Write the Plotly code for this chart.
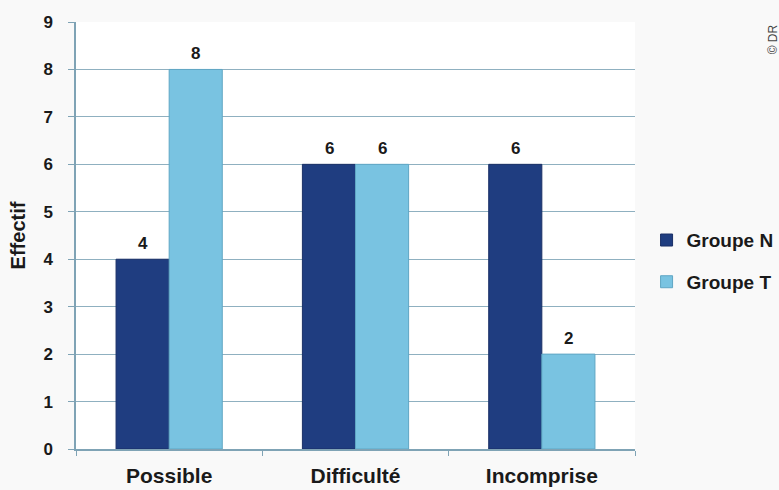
import plotly.graph_objects as go

categories = ["Possible", "Difficulté", "Incomprise"]
groupe_n = [4, 6, 6]
groupe_t = [8, 6, 2]
y_ticks = list(range(0, 10))

FONT = "Liberation Sans, Arial, sans-serif"
INK = "#1a1a1a"
AXIS = "#7fa3b5"

fig = go.Figure()
fig.add_trace(go.Bar(
    name="Groupe N", x=categories, y=groupe_n, legendgroup="n",
    marker=dict(color="#1f3d80", line=dict(color="#1a2f66", width=1)),
))
fig.add_trace(go.Bar(
    name="Groupe T", x=categories, y=groupe_t, legendgroup="t",
    marker=dict(color="#79c3e1", line=dict(color="#5fa6c4", width=1)),
))

annotations = []
for series, shift in ((groupe_n, -26.5), (groupe_t, 26.5)):
    for cat, val in zip(categories, series):
        annotations.append(dict(
            x=cat, y=val, xref="x", yref="y", text=str(val), showarrow=False,
            xshift=shift, yshift=16, yanchor="middle",
            font=dict(family=FONT, size=17, color=INK, weight="bold"),
        ))
annotations.append(dict(
    text="© DR", xref="paper", yref="paper", x=1.2475, y=1.0,
    xanchor="center", yanchor="top", textangle=-90, showarrow=False,
    font=dict(family=FONT, size=12, color="#444444"),
))

fig.update_layout(
    width=779, height=490,
    margin=dict(l=76, r=144, t=22, b=41),
    paper_bgcolor="#f9f9f9", plot_bgcolor="#ffffff",
    barmode="group", bargap=0.43, bargroupgap=0,
    font=dict(family=FONT, size=16, color=INK),
    legend=dict(
        xref="container", yref="container",
        x=0.83, y=0.467, xanchor="left", yanchor="middle",
        font=dict(family=FONT, size=19, color=INK, weight="bold"),
        bgcolor="rgba(0,0,0,0)", tracegroupgap=14, itemwidth=30,
    ),
    xaxis=dict(
        type="category", tickson="boundaries", ticks="outside", ticklen=5,
        tickcolor=AXIS, showline=True, linecolor=AXIS, linewidth=1.5,
        showgrid=False, ticklabelstandoff=7, automargin=False,
        tickfont=dict(family=FONT, size=21, color=INK, weight="bold"),
    ),
    yaxis=dict(
        range=[0, 9], tickvals=y_ticks, ticks="outside", ticklen=6,
        tickcolor=AXIS, showline=True, linecolor=AXIS, linewidth=1.5,
        showgrid=True, gridcolor="#8fb0c0", gridwidth=1.3, zeroline=False,
        ticklabelstandoff=12, automargin=False,
        tickfont=dict(family=FONT, size=17, color=INK, weight="bold"),
        title=dict(text="Effectif", standoff=12,
                   font=dict(family=FONT, size=20, color=INK, weight="bold")),
    ),
    annotations=annotations,
)

fig.write_html("out.html")
